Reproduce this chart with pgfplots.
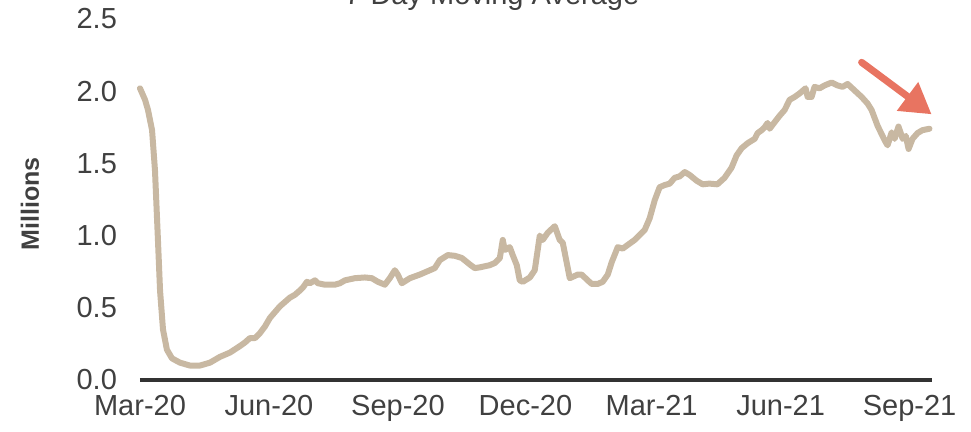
\documentclass[border=0pt]{standalone}
\usepackage{fontspec}
\setmainfont{Liberation Sans}
\usepackage{pgfplots}
\pgfplotsset{compat=1.18}
\usetikzlibrary{arrows.meta}

\definecolor{tan}{HTML}{C8B8A2}
\definecolor{salmon}{HTML}{E87461}
\definecolor{axisgray}{HTML}{333333}
\definecolor{txt}{HTML}{404040}

% x = days since 1 Mar 2020, y = millions (7-day moving average)
\pgfplotstableread{
d v
0 2.02
3.6 1.94
5.7 1.87
8.6 1.73
10.7 1.45
12.8 0.97
14.3 0.62
16.4 0.35
19.2 0.21
22.8 0.15
28.5 0.12
35.6 0.10
42.8 0.10
49.9 0.12
57.0 0.16
64.2 0.19
71.3 0.235
74.9 0.26
78.4 0.29
82.0 0.29
85.6 0.325
89.1 0.37
92.7 0.43
99.8 0.51
106.9 0.57
110.5 0.59
114.1 0.62
116.2 0.64
119.1 0.68
121.2 0.67
124.8 0.69
126.9 0.67
131.9 0.66
139.0 0.66
142.6 0.67
146.2 0.69
153.3 0.705
160.4 0.71
165.4 0.705
169.7 0.68
174.7 0.66
178.2 0.705
181.8 0.76
183.9 0.73
186.8 0.67
192.5 0.705
199.6 0.73
206.8 0.76
210.3 0.775
213.9 0.83
219.6 0.865
224.6 0.86
229.6 0.845
235.3 0.80
238.8 0.775
242.4 0.78
249.5 0.795
253.1 0.81
256.7 0.845
258.8 0.97
260.2 0.90
263.8 0.92
265.9 0.865
268.8 0.795
270.9 0.69
273.1 0.68
278.1 0.71
281.6 0.76
285.2 1.00
287.3 0.97
290.9 1.02
295.9 1.065
299.4 0.97
301.6 0.95
306.6 0.705
312.3 0.73
315.1 0.73
319.4 0.69
322.3 0.665
326.5 0.665
330.1 0.68
333.7 0.73
336.5 0.815
340.8 0.92
344.4 0.91
347.9 0.935
352.9 0.97
360.1 1.04
363.6 1.12
367.2 1.245
370.7 1.335
374.3 1.35
377.9 1.36
381.4 1.40
385.0 1.41
388.6 1.44
392.1 1.42
397.1 1.38
401.4 1.355
406.2 1.36
411.9 1.355
417.0 1.40
422.0 1.47
425.6 1.555
429.2 1.605
433.5 1.64
438.5 1.67
440.6 1.71
443.5 1.73
445.6 1.75
447.7 1.78
449.2 1.74
452.7 1.785
456.3 1.83
459.9 1.87
463.4 1.94
467.0 1.96
470.6 1.985
474.8 2.02
476.3 1.96
479.1 1.96
481.2 2.03
484.8 2.02
488.4 2.04
493.4 2.06
497.6 2.04
501.2 2.03
504.8 2.05
509.8 2.005
514.8 1.96
519.0 1.915
521.9 1.87
526.2 1.76
531.2 1.66
533.3 1.625
536.2 1.715
538.3 1.67
541.1 1.755
544.1 1.67
546.3 1.69
548.3 1.60
551.1 1.67
554.7 1.71
558.2 1.73
563.2 1.74
}\traffic

\begin{document}
\begin{tikzpicture}
\path[use as bounding box] (-70pt,-26pt) rectangle (415.5pt,190pt);
\begin{axis}[
  at={(0,0)}, anchor=origin,
  scale only axis, width=396pt, height=180.5pt,
  xmin=0, xmax=565, ymin=0, ymax=2.5,
  axis x line*=bottom, axis y line*=left,
  x axis line style={axisgray, line width=2pt, -},
  y axis line style={draw=none},
  xtick={0,92,184,275,365,457,549},
  xticklabels={Mar-20,Jun-20,Sep-20,Dec-20,Mar-21,Jun-21,Sep-21},
  ytick={0,0.5,1,1.5,2,2.5},
  yticklabels={0.0,0.5,1.0,1.5,2.0,2.5},
  major tick length=0pt,
  tick label style={font=\fontsize{14.5}{16}\selectfont, text=txt},
  xticklabel style={yshift=-4pt},
  yticklabel style={xshift=-8pt},
  clip=false,
]
\addplot[tan, line width=3pt, line join=round, line cap=round] table[x=d, y=v] {\traffic};
\draw[salmon, line width=3.5pt, line cap=round, -{Triangle[length=15pt, width=17pt]}]
  (axis cs:514.8,2.20) -- (axis cs:564.7,1.84);
\end{axis}
\node[rotate=90, font=\fontsize{12.5}{14}\selectfont\bfseries, text=txt] at (-55pt,88pt) {Millions};
\node[anchor=base, font=\fontsize{14.5}{16}\selectfont, text=txt] at (176pt,187.5pt) {7-Day Moving Average};
\end{tikzpicture}
\end{document}
